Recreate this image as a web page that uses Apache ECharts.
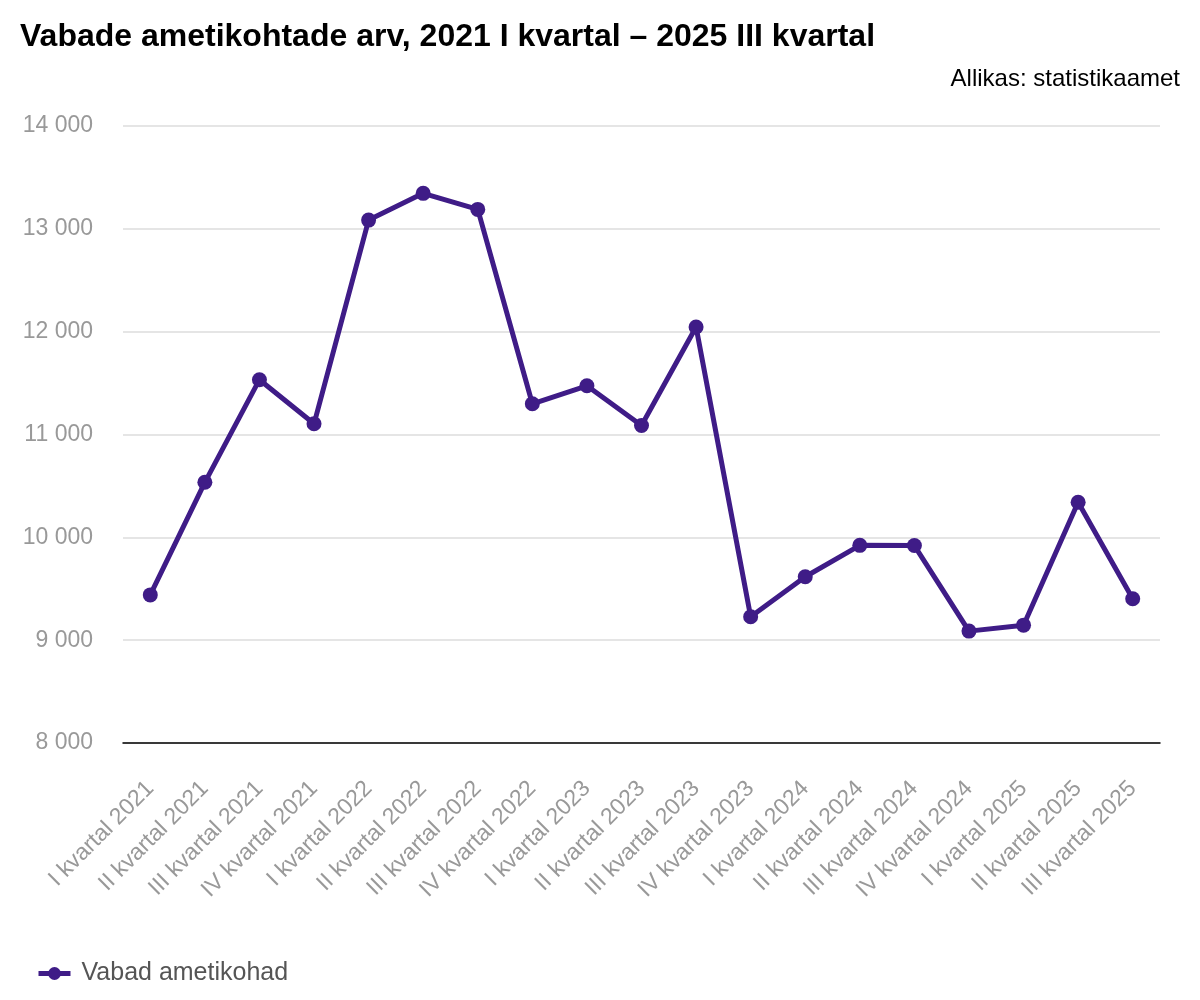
<!DOCTYPE html>
<html>
<head>
<meta charset="utf-8">
<script src="https://cdn.jsdelivr.net/npm/echarts@6/dist/echarts.min.js"></script>
<style>
  html, body { margin: 0; padding: 0; background: #fff; }
  #chart { width: 1200px; height: 1000px; }
</style>
</head>
<body>
<div id="chart"></div>
<script>
// 数据
const categories = [
  "I kvartal 2021", "II kvartal 2021", "III kvartal 2021", "IV kvartal 2021",
  "I kvartal 2022", "II kvartal 2022", "III kvartal 2022", "IV kvartal 2022",
  "I kvartal 2023", "II kvartal 2023", "III kvartal 2023", "IV kvartal 2023",
  "I kvartal 2024", "II kvartal 2024", "III kvartal 2024", "IV kvartal 2024",
  "I kvartal 2025", "II kvartal 2025", "III kvartal 2025"
];
const vacancies = [
  9440, 10535, 11533, 11104,
  13085, 13345, 13189, 11299,
  11474, 11088, 12046, 9228,
  9617, 9922, 9920, 9088,
  9146, 10341, 9403
];
const seriesName = "Vabad ametikohad";

(function () {
  const myChart = echarts.init(document.getElementById("chart"));
  const lineColor = "#3f1c87";
  const font = "Liberation Sans, Arial, Helvetica, sans-serif";
  const option = {
    textStyle: { fontFamily: font },
    title: [
      {
        text: "Vabade ametikohtade arv, 2021 I kvartal – 2025 III kvartal",
        left: 15,
        top: 16,
        textStyle: { fontSize: 32, fontWeight: "bold", color: "#000", fontFamily: font }
      },
      {
        text: "Allikas: statistikaamet",
        right: 15,
        top: 62,
        textStyle: { fontSize: 24, fontWeight: "normal", color: "#000", fontFamily: font }
      }
    ],
    legend: {
      data: [seriesName],
      left: 31,
      top: 956,
      itemWidth: 32,
      itemHeight: 16,
      lineStyle: { width: 5 },
      textStyle: { fontSize: 25, color: "#555", fontFamily: font, padding: [0, 0, 0, 6] }
    },
    grid: {
      left: 123,
      right: 40,
      top: 126,
      bottom: 257,
      containLabel: false
    },
    xAxis: {
      type: "category",
      data: categories,
      axisLine: { show: true, lineStyle: { color: "#000", width: 1.5 } },
      axisTick: { show: false },
      axisLabel: {
        rotate: 45,
        interval: 0,
        margin: 42,
        color: "#999",
        fontSize: 23,
        fontFamily: font
      }
    },
    yAxis: {
      type: "value",
      min: 8000,
      max: 14000,
      interval: 1000,
      axisLine: { show: false },
      axisTick: { show: false },
      axisLabel: {
        margin: 30,
        color: "#999",
        fontSize: 23,
        fontFamily: font,
        formatter: (v) => String(v).replace(/\B(?=(\d{3})+(?!\d))/g, " ")
      },
      splitLine: {
        lineStyle: { color: "#dcdcdc", width: 1.5 }
      }
    },
    series: [
      {
        name: seriesName,
        type: "line",
        data: vacancies,
        symbol: "circle",
        symbolSize: 15,
        lineStyle: { color: lineColor, width: 5 },
        itemStyle: { color: lineColor },
        z: 3
      }
    ]
  };
  myChart.setOption(option);

  window.addEventListener("resize", () => {
    myChart.resize();
  });
})();
</script>
</body>
</html>
